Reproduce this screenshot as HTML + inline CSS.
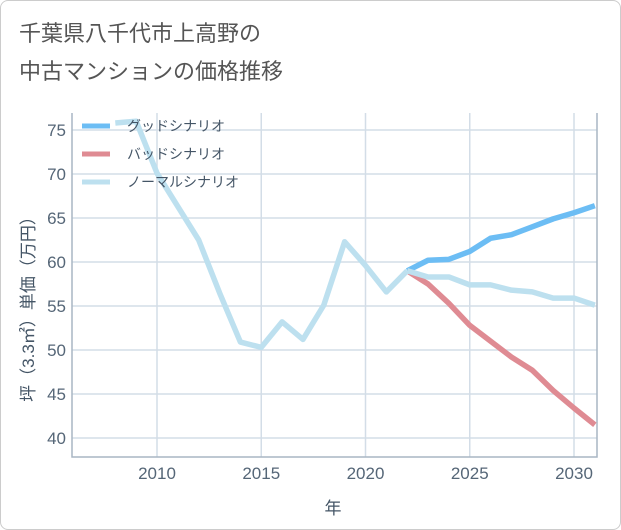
<!DOCTYPE html>
<html><head><meta charset="utf-8"><style>
body{margin:0;background:#fff;font-family:"Liberation Sans","Noto Sans CJK JP",sans-serif;}
#wrap{position:relative;width:619px;height:528px;border:1px solid #ccc;border-radius:8px;overflow:hidden;background:#fff}
#title{position:absolute;left:18px;top:14px;font-size:22px;line-height:38px;color:#555}
</style></head><body>
<div id="wrap">
<div id="title">千葉県八千代市上高野の<br>中古マンションの価格推移</div>
<svg id="chart" width="621" height="530" style="position:absolute;left:-1px;top:-1px"></svg>
</div>
<script>
const years=[2008,2009,2010,2011,2012,2013,2014,2015,2016,2017,2018,2019,2020,2021,2022];
const normalPast=[75.8,76.0,70.1,66.3,62.5,56.5,50.9,50.3,53.2,51.2,55.1,62.3,59.6,56.6,59.0];
const futureYears=[2022,2023,2024,2025,2026,2027,2028,2029,2030,2031];
const good=[59.0,60.2,60.3,61.2,62.7,63.1,64.0,64.9,65.6,66.4];
const bad=[59.0,57.5,55.3,52.8,51.0,49.2,47.7,45.4,43.4,41.5];
const normalFuture=[59.0,58.3,58.3,57.4,57.4,56.8,56.6,55.9,55.9,55.1];
const yTicks=[40,45,50,55,60,65,70,75];
const xTicks=[2010,2015,2020,2025,2030];
const svg=document.getElementById('chart');const NS='http://www.w3.org/2000/svg';
const L=72,R=597,T=113,B=457;
const x=v=>157+(v-2010)*20.85;
const y=v=>438-(v-40)*8.8;
function mk(t,a){const e=document.createElementNS(NS,t);for(const k in a)e.setAttribute(k,a[k]);svg.appendChild(e);return e;}
let bg=mk('rect',{x:L,y:T,width:R-L,height:B-T,fill:'#fff',stroke:'none'});


yTicks.forEach(v=>{let g=mk('line',{x1:L,x2:R,y1:y(v),y2:y(v),stroke:'#d3dde7','stroke-width':1.5});


let t=mk('text',{x:L-6,y:y(v)+6,'text-anchor':'end','font-size':17,fill:'#556677'});t.textContent=v;

});
xTicks.forEach(v=>{let g=mk('line',{x1:x(v),x2:x(v),y1:T,y2:B,stroke:'#d3dde7','stroke-width':1.5});


let t=mk('text',{x:x(v),y:B+22,'text-anchor':'middle','font-size':17,fill:'#556677'});t.textContent=v;

});
let ax=mk('path',{d:`M${L} ${T}V${B}H${R}V${T}`,fill:'none',stroke:'#a9b6c4','stroke-width':1.5});


function line(xs,vs,c,name){const d=xs.map((v,i)=>(i?'L':'M')+x(v)+' '+y(vs[i])).join('');
const p=mk('path',{d,fill:'none',stroke:c,'stroke-width':5.5,'stroke-linejoin':'round'});

}
line(futureYears,bad,'#df8b93','bad-scenario-line');
line(futureYears,good,'#6cbdf4','good-scenario-line');
line(years,normalPast,'#bde0ef','normal-scenario-past-line');
line(futureYears,normalFuture,'#bde0ef','normal-scenario-line');
const legend=[['グッドシナリオ','#6cbdf4'],['バッドシナリオ','#df8b93'],['ノーマルシナリオ','#bde0ef']];
legend.forEach((l,i)=>{const yy=126+i*28;
let s=mk('line',{x1:82,x2:110,y1:yy,y2:yy,stroke:l[1],'stroke-width':5});


let t=mk('text',{x:127,y:yy+5,'font-size':14,fill:'#445566'});t.textContent=l[0];

});
let yt=mk('text',{transform:'translate(34,305) rotate(-90)','text-anchor':'middle','font-size':17,fill:'#445566'});yt.textContent='坪（3.3㎡）単価（万円）';


let xt=mk('text',{x:333,y:514,'text-anchor':'middle','font-size':17,fill:'#445566'});xt.textContent='年';


</script>
</body></html>
